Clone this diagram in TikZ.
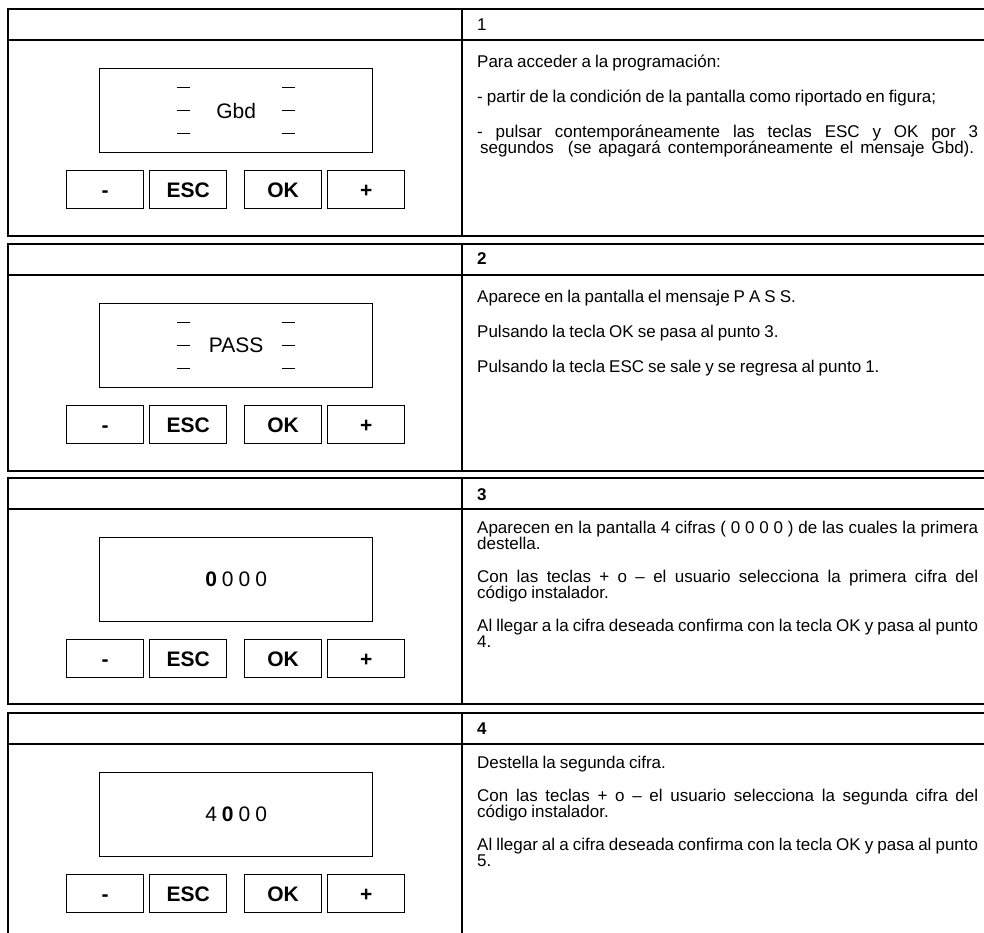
\documentclass[tikz,border=0pt]{standalone}
\usepackage{fontspec}
\setmainfont{Liberation Sans}[WordSpace=0.85]
\begin{document}
\begin{tikzpicture}[x=1pt,y=-1pt,
  frame/.style={line width=1.6pt},
  keybox/.style={draw, line width=1.3pt, minimum width=77pt, minimum height=38pt, inner sep=0pt, anchor=north west, text height=15pt, text depth=0pt, font=\bfseries\fontsize{21}{21}\selectfont},
  lcd/.style={draw, line width=1.3pt, minimum width=273pt, minimum height=84pt, inner sep=0pt, anchor=north west},
  lcdtext/.style={inner sep=0pt, font=\fontsize{21}{21}\selectfont},
  seg/.style={line width=1.3pt},
  body/.style={anchor=base west, inner sep=0pt, text height=12pt, text depth=3pt, font=\fontsize{17}{17}\selectfont},
  num/.style={body, font=\bfseries\fontsize{17}{17}\selectfont}
]
\useasboundingbox (0,0) rectangle (984,933);

% ---------- section frames ----------
\foreach \T/\B in {9/236, 244/471, 478/704, 713/940} {
  \draw[frame] (994,\T) -- (8,\T) -- (8,\B) -- (994,\B);
  \draw[frame] (8,\T+31) -- (994,\T+31);
  \draw[frame] (462,\T) -- (462,\B);
}

% ---------- displays and keys ----------
\foreach \T/\s in {9/a, 244/b, 478/c, 713/d} {
  \node[lcd] (lcd\s) at (99,\T+59) {};
  \node[keybox] (minus\s) at (66,\T+161) {-};
  \node[keybox] (esc\s) at (149,\T+161) {ESC};
  \node[keybox] (ok\s) at (244,\T+161) {OK};
  \node[keybox] (plus\s) at (327,\T+161) {+};
}

% dashes in displays 1 and 2
\foreach \s in {a,b} {
  \foreach \dy in {-23,0,23} {
    \draw[seg] ([xshift=78pt,yshift=\dy pt]lcd\s.west) -- ++(13,0);
    \draw[seg] ([xshift=183pt,yshift=\dy pt]lcd\s.west) -- ++(13,0);
  }
}
\node[lcdtext] (gbd) at (lcda.center) {Gbd};
\node[lcdtext] (pass) at (lcdb.center) {PASS};
\node[lcdtext] (code1) at (lcdc.center) {{\bfseries 0} 0 0 0};
\node[lcdtext] (code2) at (lcdd.center) {4 {\bfseries 0} 0 0};

% ---------- section 1 text ----------
\node[body] (n1) at (477,31) {1};
\node[body] (t1a) at (477,68) {Para acceder a la programación:};
\node[body] (t1b) at (477,103) {- partir de la condición de la pantalla como riportado en figura;};
\node[body] (t1c) at (477,138) {\makebox[501pt][s]{- pulsar contemporáneamente las teclas ESC y OK por 3}};
\node[body] (t1d) at (480,154) {\makebox[494pt][s]{segundos\ \ (se apagará contemporáneamente el mensaje Gbd).}};

% ---------- section 2 text ----------
\node[num] (n2) at (477,264) {2};
\node[body] (t2a) at (477,302) {Aparece en la pantalla el mensaje P A S S.};
\node[body] (t2b) at (477,337) {Pulsando la tecla OK se pasa al punto 3.};
\node[body] (t2c) at (477,372) {Pulsando la tecla ESC se sale y se regresa al punto 1.};

% ---------- section 3 text ----------
\node[num] (n3) at (477,500) {3};
\node[body] (t3a) at (477,533) {\makebox[501pt][s]{Aparecen en la pantalla 4 cifras ( 0 0 0 0 ) de las cuales la primera}};
\node[body] (t3b) at (477,549) {destella.};
\node[body] (t3c) at (477,582) {\makebox[501pt][s]{Con las teclas + o – el usuario selecciona la primera cifra del}};
\node[body] (t3d) at (477,598) {código instalador.};
\node[body] (t3e) at (477,631) {\makebox[501pt][s]{Al llegar a la cifra deseada confirma con la tecla OK y pasa al punto}};
\node[body] (t3f) at (477,647) {4.};

% ---------- section 4 text ----------
\node[num] (n4) at (477,734) {4};
\node[body] (t4a) at (477,768) {Destella la segunda cifra.};
\node[body] (t4b) at (477,801) {\makebox[501pt][s]{Con las teclas + o – el usuario selecciona la segunda cifra del}};
\node[body] (t4c) at (477,817) {código instalador.};
\node[body] (t4d) at (477,850) {\makebox[501pt][s]{Al llegar al a cifra deseada confirma con la tecla OK y pasa al punto}};
\node[body] (t4e) at (477,866) {5.};
\end{tikzpicture}
\end{document}
